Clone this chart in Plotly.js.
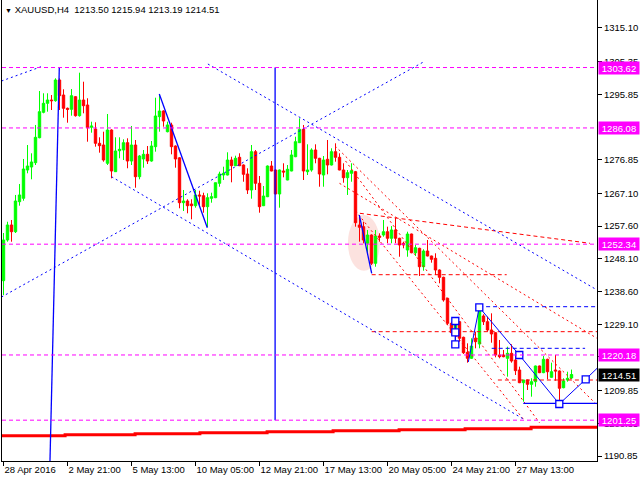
<!DOCTYPE html>
<html>
<head>
<meta charset="utf-8">
<script src="https://cdn.plot.ly/plotly-3.0.1.min.js"></script>
<style>html,body{margin:0;padding:0;background:#fff;}#chart{width:640px;height:480px;}</style>
</head>
<body>
<div id="chart"></div>
<script>
// ---- candle data (H4 bars, index 0 = 28 Apr 2016) ----
const opens = [1241.74,1253.55,1257.91,1255.96,1264.67,1265.66,1273.87,1274.74,1275.99,1283.25,
1290.62,1293.23,1294.19,1293.99,1300.00,1295.64,1291.78,1291.49,1295.15,1289.64,
1294.19,1292.74,1286.27,1285.77,1281.62,1281.13,1275.82,1285.48,1273.38,1279.47,
1279.68,1281.80,1276.48,1281.13,1271.93,1277.07,1278.43,1276.48,1280.64,1289.35,
1291.00,1284.99,1286.94,1280.84,1277.40,1264.38,1264.87,1264.00,1263.51,1266.62,
1266.41,1263.22,1265.66,1265.83,1270.01,1272.42,1272.42,1276.77,1275.12,1277.56,
1275.32,1272.71,1268.07,1279.19,1270.01,1263.51,1266.12,1275.03,1273.87,1266.91,
1273.58,1270.97,1273.58,1277.73,1281.80,1285.69,1273.38,1273.87,1279.68,1277.27,
1272.42,1276.98,1275.32,1279.19,1277.56,1273.87,1271.64,1272.91,1273.38,1257.91,
1257.42,1252.60,1255.00,1246.79,1254.71,1255.00,1255.96,1254.05,1256.46,1254.05,
1252.60,1250.65,1255.29,1249.86,1251.14,1245.80,1250.36,1248.91,1248.24,1244.84,
1242.72,1236.63,1229.37,1226.65,1229.84,1225.31,1220.95,1219.21,1225.02,1223.36,
1231.49,1229.84,1227.43,1226.65,1220.17,1220.17,1219.21,1220.66,1218.71,1215.82,
1212.13,1212.91,1211.66,1212.42,1216.98,1215.04,1218.92,1213.70,1215.82,1215.53,
1210.68,1212.91,1213.50];
const highs = [1255.58,1258.86,1259.36,1266.62,1269.81,1277.07,1281.13,1278.72,1286.94,1296.80,
1296.14,1296.14,1295.64,1300.49,1300.49,1297.30,1292.00,1297.38,1295.30,1302.12,
1299.50,1294.69,1287.89,1287.72,1283.36,1284.99,1290.13,1285.70,1283.36,1283.36,
1282.78,1283.07,1286.65,1282.58,1278.23,1279.68,1280.84,1282.29,1294.86,1295.93,
1291.20,1287.89,1287.60,1281.00,1277.60,1268.07,1265.37,1265.37,1268.07,1267.86,
1267.28,1267.11,1267.28,1270.20,1273.38,1274.83,1279.01,1277.73,1278.02,1278.72,
1275.50,1274.37,1281.13,1279.68,1272.13,1269.23,1275.20,1276.48,1274.00,1274.00,
1275.82,1275.32,1279.68,1283.53,1288.88,1286.94,1281.33,1280.17,1281.33,1277.40,
1277.94,1282.58,1280.17,1281.62,1278.72,1275.82,1273.87,1275.82,1273.60,1260.81,
1258.86,1256.46,1255.20,1256.46,1255.50,1259.36,1257.42,1257.60,1260.00,1254.20,
1253.06,1255.96,1255.40,1252.10,1251.30,1250.85,1253.55,1249.00,1249.69,1245.00,
1242.90,1236.80,1229.84,1229.84,1230.00,1225.50,1223.56,1225.02,1226.94,1234.19,
1231.98,1231.29,1232.27,1226.80,1224.53,1221.62,1222.58,1223.28,1220.17,1216.78,
1212.95,1213.00,1213.41,1217.10,1217.10,1219.88,1219.10,1217.94,1220.17,1215.70,
1213.41,1215.32,1215.94];
const lows = [1237.59,1253.06,1253.06,1255.58,1263.51,1264.96,1272.91,1271.17,1275.32,1283.07,
1290.33,1290.80,1291.29,1293.70,1291.29,1289.06,1287.60,1289.64,1289.35,1289.35,
1290.33,1282.09,1284.70,1280.64,1278.90,1276.28,1275.32,1271.46,1273.30,1277.27,
1276.77,1274.37,1275.32,1268.73,1271.17,1274.54,1275.61,1276.28,1279.19,1284.99,
1286.44,1284.80,1278.43,1274.54,1262.76,1261.97,1261.30,1259.56,1262.93,1263.71,
1261.48,1257.33,1264.38,1265.70,1269.02,1270.97,1272.30,1270.30,1275.00,1275.00,
1270.47,1266.91,1265.54,1268.07,1261.48,1263.40,1266.00,1273.50,1266.80,1262.93,
1271.75,1270.90,1273.50,1277.60,1281.70,1270.97,1272.42,1273.38,1275.82,1269.02,
1269.02,1272.62,1275.20,1276.28,1273.80,1270.18,1266.62,1270.47,1257.42,1253.06,
1252.60,1249.20,1246.30,1245.80,1253.06,1254.51,1252.60,1252.60,1252.60,1248.70,
1251.14,1248.70,1249.69,1248.91,1243.10,1244.64,1248.80,1246.97,1243.39,1240.98,
1235.65,1228.88,1225.98,1224.53,1224.03,1220.46,1217.94,1219.10,1222.11,1222.11,
1228.88,1226.94,1223.74,1219.50,1219.21,1219.50,1213.88,1217.94,1214.37,1212.00,
1206.62,1210.01,1208.07,1210.97,1214.90,1214.90,1213.12,1213.60,1212.71,1206.62,
1210.50,1212.42,1213.19];
const closes = [1253.55,1257.91,1255.96,1264.87,1266.62,1274.16,1275.03,1276.20,1283.36,1290.80,
1293.23,1294.19,1293.99,1300.00,1295.44,1291.78,1291.49,1295.44,1289.64,1294.19,
1292.54,1286.15,1286.65,1281.62,1280.93,1276.77,1285.48,1273.58,1279.39,1279.88,
1281.80,1276.48,1281.13,1271.93,1277.94,1278.43,1276.48,1280.84,1289.55,1291.00,
1288.10,1286.94,1280.64,1277.07,1264.38,1264.87,1263.51,1263.51,1266.62,1266.32,
1263.22,1265.83,1266.12,1270.18,1272.71,1272.91,1276.77,1275.12,1277.27,1275.12,
1272.62,1268.07,1279.19,1270.01,1263.22,1266.32,1275.03,1273.58,1266.91,1273.87,
1273.29,1274.08,1278.23,1282.09,1285.69,1273.58,1273.87,1279.68,1277.27,1272.71,
1276.77,1275.32,1279.19,1277.56,1273.87,1271.64,1273.09,1273.67,1258.58,1257.24,
1253.55,1255.00,1246.79,1254.71,1254.34,1255.96,1254.05,1256.46,1254.05,1252.10,
1252.10,1255.29,1249.86,1251.32,1245.80,1250.36,1248.91,1247.95,1244.84,1242.72,
1236.14,1229.37,1226.65,1229.17,1225.02,1220.84,1219.21,1222.78,1224.03,1233.24,
1229.84,1227.43,1226.27,1220.17,1219.68,1219.68,1220.66,1218.43,1215.62,1212.13,
1212.91,1211.66,1212.42,1216.98,1215.04,1218.92,1215.32,1215.32,1215.53,1210.51,
1212.62,1213.41,1214.51];

// ---- axis labels ----
const dateTickBars = [0,16,32,48,64,80,96,112,128];
const dateTickLabels = ['28 Apr 2016','2 May 21:00','5 May 13:00','10 May 05:00','12 May 21:00','17 May 13:00','20 May 05:00','24 May 21:00','27 May 13:00'];
const priceTicks = [1315.10,1305.35,1295.85,1276.85,1267.10,1257.60,1248.10,1238.60,1229.10,1219.60,1209.85,1200.35,1190.85];

// ---- horizontal levels (magenta) and current price ----
const levelPrices = [1303.62,1286.08,1252.34,1220.18,1201.25];
const lastPrice = 1214.51;

// ---- drawn objects: [barStart, priceStart, barEnd, priceEnd] ----
const blueSolidLines = [
  [13.95,1303.62,11.55,1186.0],
  [67.9,1303.62,67.9,1201.25],
  [38.95,1295.93,50.95,1257.12],
  [88.95,1260.81,92.05,1243.88],
  [112.95,1230.04,112.95,1223.28],
  [129.95,1206.15,148.4,1206.15]
];
const blueDottedLines = [
  [-0.5,1237.0,105.4,1305.5],
  [-0.5,1299.7,9.9,1304.06],
  [51.1,1304.64,148.4,1239.04],
  [27.0,1271.93,130.4,1201.3]
];
const blueDashedLines = [
  [118.9,1234.19,148.4,1234.19],
  [122.05,1222.11,145.4,1222.11]
];
const zigzagBars = [116.2,118.95,128.95,138.95,145.55,149.1];
const zigzagPrices = [1218.14,1234.01,1220.17,1205.95,1213.12,1217.1];
const squareBars = [112.95,112.95,112.95,118.95,128.95,138.95,145.55];
const squarePrices = [1230.04,1226.76,1223.28,1234.01,1220.17,1205.95,1213.12];
const redDashedLines = [
  [89.1,1261.30,146.6,1252.60],
  [92.05,1243.48,125.8,1243.48],
  [92.05,1226.94,148.4,1226.94],
  [123.6,1212.91,148.4,1212.91]
];
const redDottedLines = [
  [82.9,1280.84,148.4,1205.65],
  [85.5,1276.5,134.0,1200.5],
  [88.0,1262.0,130.0,1201.5],
  [84.0,1270.0,148.4,1225.0]
];
const redStepBars = [-0.5,15.4,32.9,49.1,65.9,82.4,98.9,115.4,131.9,148.4];
const redStepPrices = [1196.75,1197.04,1197.33,1197.62,1197.91,1198.20,1198.49,1198.78,1199.18,1199.18];
const ellipseBars = [86.1,94.1];
const ellipsePrices = [1244.6,1260.8];

const idx = opens.map((_, i) => i);

function segTrace(list, color, dash, width) {
  const xs = [], ys = [];
  list.forEach(s => { xs.push(s[0], s[2], null); ys.push(s[1], s[3], null); });
  return {type:'scatter', mode:'lines', x:xs, y:ys, hoverinfo:'skip', showlegend:false,
          line:{color:color, width:width, dash:dash}};
}

const traces = [];
traces.push({type:'scatter', mode:'lines', x:redStepBars, y:redStepPrices, line:{color:'#ff0000', width:3, shape:'hv'}, hoverinfo:'skip', showlegend:false});
traces.push(segTrace(redDottedLines, '#ff0000', '2px,3px', 1));
traces.push(segTrace(redDashedLines, '#ff0000', '4px,3px', 1));
traces.push(segTrace(blueDottedLines, '#0000ff', '2px,3px', 1));
traces.push(segTrace(blueDashedLines, '#0000ff', '4px,3px', 1));
traces.push(segTrace(blueSolidLines, '#0000ff', 'solid', 1.3));
traces.push({type:'candlestick', x:idx, open:opens, high:highs, low:lows, close:closes,
  increasing:{line:{color:'#00ff00', width:1}, fillcolor:'#00ff00'},
  decreasing:{line:{color:'#ff0000', width:1}, fillcolor:'#ff0000'},
  whiskerwidth:0, hoverinfo:'skip', showlegend:false});
traces.push({type:'scatter', mode:'lines', x:zigzagBars, y:zigzagPrices, line:{color:'#0000ff', width:1}, hoverinfo:'skip', showlegend:false});
traces.push({type:'scatter', mode:'markers', x:squareBars, y:squarePrices, marker:{symbol:'square', size:7, color:'#ffffff', line:{color:'#0000ff', width:1.3}}, hoverinfo:'skip', showlegend:false});

const FONT = 'Liberation Sans, Arial, sans-serif';
const annotations = levelPrices.map(p => ({
  xref:'paper', x:1, xanchor:'left', xshift:1, yref:'y', y:p, yanchor:'middle',
  text:p.toFixed(2), showarrow:false, bgcolor:'#ff00ff', borderpad:0, width:40, height:12,
  font:{family:FONT, size:9.5, color:'#ffffff'}
}));
annotations.push({xref:'paper', x:1, xanchor:'left', xshift:1, yref:'y', y:lastPrice, yanchor:'middle',
  text:lastPrice.toFixed(2), showarrow:false, bgcolor:'#000000', borderpad:0, width:40, height:12,
  font:{family:FONT, size:9.5, color:'#ffffff'}});

const shapes = [{type:'circle', xref:'x', yref:'y', x0:ellipseBars[0], x1:ellipseBars[1], y0:ellipsePrices[0], y1:ellipsePrices[1],
           fillcolor:'rgba(248,190,185,0.45)', line:{width:0}, layer:'below'}];
levelPrices.forEach(p => shapes.push({type:'line', xref:'paper', x0:0, x1:1, yref:'y', y0:p, y1:p,
  line:{color:'#ff00ff', width:1, dash:'4px,3px'}, layer:'above'}));

const layout = {
  width:640, height:480,
  margin:{l:2, r:43, t:0, b:19},
  paper_bgcolor:'#ffffff', plot_bgcolor:'#ffffff',
  showlegend:false,
  boxgap:0.4, boxgroupgap:0,
  title:{text:'<span style="font-size:7px">▼</span> XAUUSD,H4\u00a0\u00a01213.50 1215.94 1213.19 1214.51',
         x:0.008, xanchor:'left', xref:'container', y:0.979, yref:'container', yanchor:'middle',
         font:{family:FONT, size:9.5, color:'#000000'}},
  xaxis:{range:[-0.375,148.375], showgrid:false, zeroline:false, showline:true, linecolor:'#000', linewidth:1,
         ticks:'outside', ticklen:4, tickcolor:'#000', tickvals:dateTickBars, ticktext:dateTickLabels,
         tickangle:0, ticklabelposition:'outside right', tickfont:{family:FONT, size:9.5, color:'#000'},
         rangeslider:{visible:false}, fixedrange:true},
  yaxis:{range:[1189.40,1323.22], side:'right', showgrid:false, zeroline:false, showline:true, mirror:true,
         linecolor:'#000', linewidth:1, ticks:'outside', ticklen:4, tickcolor:'#000',
         tickvals:priceTicks, ticktext:priceTicks.map(v => v.toFixed(2)),
         tickfont:{family:FONT, size:9.5, color:'#000'}, fixedrange:true},
  shapes:shapes,
  annotations:annotations
};

Plotly.newPlot('chart', traces, layout, {staticPlot:true, displayModeBar:false});
</script>
</body>
</html>
